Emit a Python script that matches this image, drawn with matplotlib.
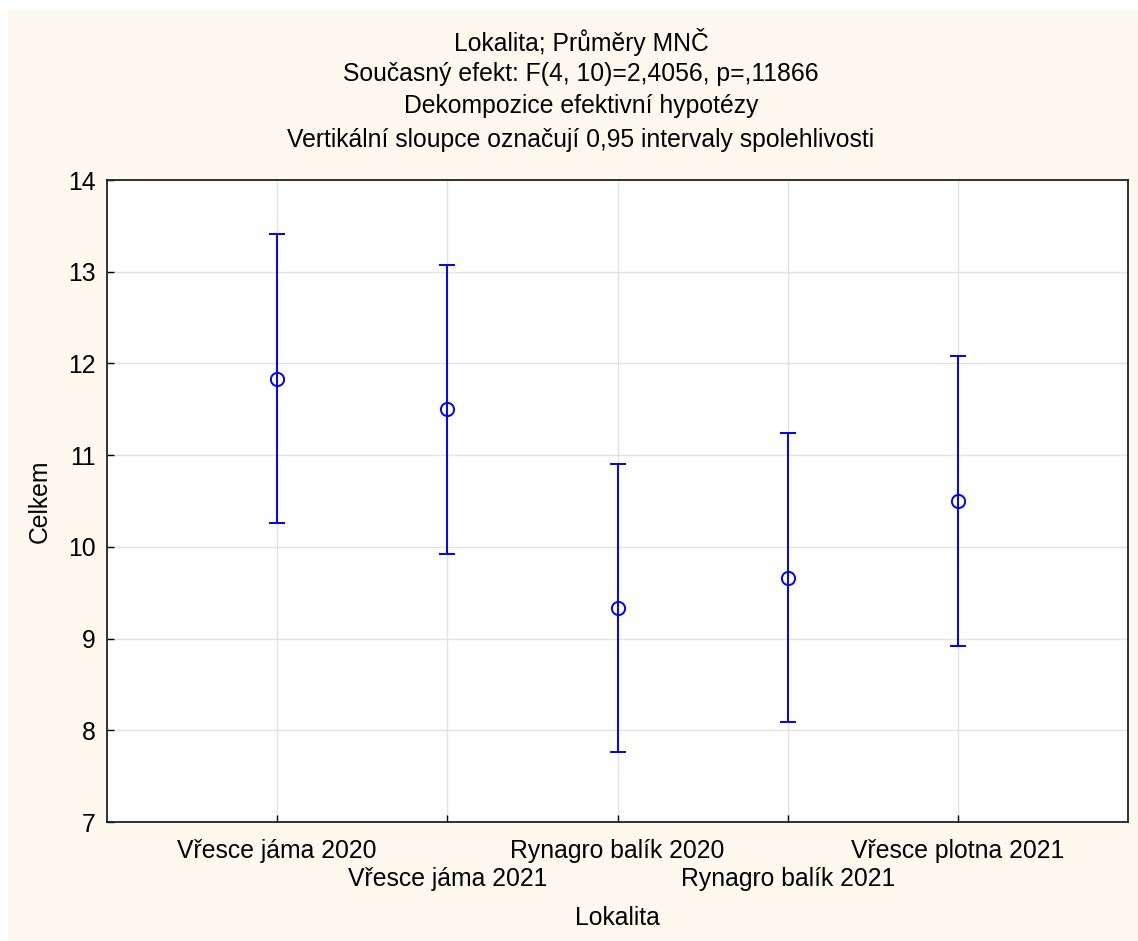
import matplotlib
matplotlib.use("Agg")
from matplotlib import pyplot as plt
from matplotlib.patches import Rectangle
from matplotlib.transforms import ScaledTranslation
import numpy as np

plt.rcParams['font.family'] = ['Liberation Sans', 'DejaVu Sans']

categories = ['Vřesce jáma 2020', 'Vřesce jáma 2021', 'Rynagro balík 2020',
              'Rynagro balík 2021', 'Vřesce plotna 2021']
means = [11.83, 11.50, 9.33, 9.66, 10.50]
upper = [13.41, 13.07, 10.90, 11.24, 12.08]
lower = [10.26, 9.92, 7.76, 8.09, 8.92]

titles = ['Lokalita; Průměry MNČ',
          'Současný efekt: F(4, 10)=2,4056, p=,11866',
          'Dekompozice efektivní hypotézy',
          'Vertikální sloupce označují 0,95 intervaly spolehlivosti']

fs = 17.8

fig = plt.figure(figsize=(11.38, 9.41), dpi=100, facecolor='white')
fig.patches.append(Rectangle((8 / 1138, 0), 1, 1 - 10 / 941, transform=fig.transFigure,
                             facecolor='#fef9ee', edgecolor='none', zorder=-10))

ax = fig.add_axes([107 / 1138, 1 - 822 / 941, (1128 - 107) / 1138, (822 - 180) / 941])
ax.set_facecolor('white')

x = np.arange(1, len(categories) + 1)
m = np.array(means)
err = [m - np.array(lower), np.array(upper) - m]
ax.errorbar(x, m, yerr=err, fmt='o', color='#0000ff', mfc='none', mec='#0000ff',
            ms=9.5, mew=1.4, elinewidth=1.4, capsize=6, capthick=1.4, zorder=3)

ax.set_xlim(0, 6)
ax.set_ylim(7, 14)
ax.set_yticks(range(7, 15))
ax.set_xticks(x)
ax.set_xticklabels(categories)
ax.tick_params(direction='in', length=5, width=1, labelsize=fs, colors='black', pad=12)
ax.tick_params(axis='y', pad=8)
# stagger every second category label one row lower
shift = ScaledTranslation(0, -28 / 100, fig.dpi_scale_trans)
for i, lab in enumerate(ax.get_xticklabels()):
    if i % 2 == 1:
        lab.set_transform(lab.get_transform() + shift)
ax.grid(True, color='#e2e2e2', linewidth=1)
ax.set_axisbelow(True)
for s in ax.spines.values():
    s.set_linewidth(1.3)
    s.set_color('#222222')

ax.set_xlabel('Lokalita', fontsize=fs, labelpad=14)
ax.xaxis.set_label_coords(0.5, -(918 - 822) / 642, transform=ax.transAxes)
ax.xaxis.label.set_va('center')
ax.set_ylabel('Celkem', fontsize=fs, labelpad=12)

ys = [42, 74, 106, 140]
for t, yy in zip(titles, ys):
    fig.text(581 / 1138, 1 - yy / 941, t, ha='center', va='center', fontsize=fs)

fig.savefig('out.png', dpi=100, facecolor=fig.get_facecolor())
